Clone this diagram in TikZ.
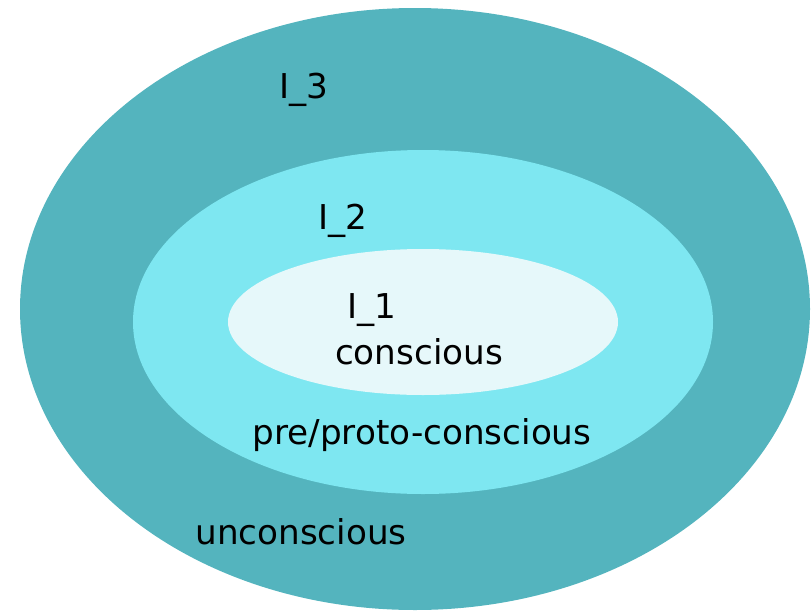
\documentclass[tikz,border=0pt]{standalone}
\usepackage{fontspec}
\setmainfont{DejaVu Sans}
\definecolor{outerteal}{RGB}{84,180,190}
\definecolor{midcyan}{RGB}{126,231,241}
\definecolor{innerpale}{RGB}{230,248,250}
\begin{document}
\begin{tikzpicture}[x=0.03cm,y=-0.03cm]

% Parametry
\def\fs{\fontsize{29.2}{31}\selectfont}
\tikzset{label/.style={anchor=base,inner sep=0pt,font=\fs,text=black}}

\useasboundingbox (0,0) rectangle (811,612);

% ---------- Poziom 3: nieswiadomosc ----------
\fill[outerteal] (415,309) ellipse (395 and 301);

% ---------- Poziom 2: przed-swiadomosc ----------
\fill[midcyan] (423,322) ellipse (290 and 172);

% ---------- Poziom 1: swiadomosc ----------
\fill[innerpale] (423,322) ellipse (195 and 73);

% ---------- Podpisy ----------
\node[label] (l3) at (304,98) {I\_3};
\node[label] (l2) at (343,229) {I\_2};
\node[label] (l1) at (372,318) {I\_1};
\node[label] (consc) at (419,364) {conscious};
\node[label] (precon) at (422,444) {pre/proto-conscious};
\node[label] (uncon) at (301,544) {unconscious};

\end{tikzpicture}
\end{document}
